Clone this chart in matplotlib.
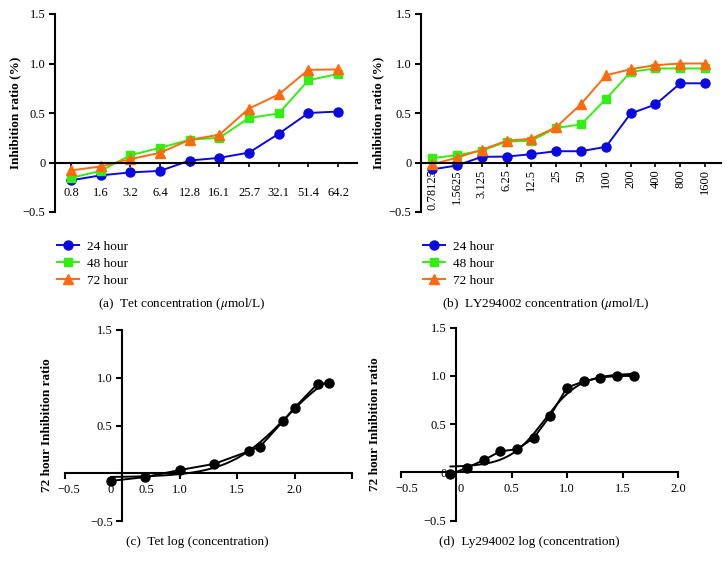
import numpy as np
import matplotlib
matplotlib.use("Agg")
import matplotlib.pyplot as plt

plt.rcParams['font.family'] = ['Liberation Serif', 'DejaVu Serif']
plt.rcParams['mathtext.fontset'] = 'stix'

# ---------------- data ----------------
tet_conc = ['0.8', '1.6', '3.2', '6.4', '12.8', '16.1', '25.7', '32.1', '51.4', '64.2']
tet_24 = [-0.18, -0.13, -0.10, -0.085, 0.02, 0.047, 0.10, 0.29, 0.50, 0.515]
tet_48 = [-0.155, -0.085, 0.074, 0.148, 0.23, 0.25, 0.45, 0.495, 0.83, 0.895]
tet_72 = [-0.08, -0.04, 0.034, 0.098, 0.23, 0.28, 0.545, 0.687, 0.936, 0.94]

ly_conc = ['0.78125', '1.5625', '3.125', '6.25', '12.5', '25', '50', '100', '200', '400', '800', '1600']
ly_24 = [-0.07, -0.03, 0.057, 0.06, 0.084, 0.114, 0.114, 0.158, 0.495, 0.586, 0.80, 0.80]
ly_48 = [0.044, 0.074, 0.12, 0.21, 0.22, 0.35, 0.384, 0.64, 0.915, 0.95, 0.95, 0.95]
ly_72 = [-0.02, 0.05, 0.128, 0.22, 0.24, 0.357, 0.59, 0.88, 0.943, 0.983, 1.0, 1.0]

series_labels = ['24 hour', '48 hour', '72 hour']

tet_log = [-0.10, 0.20, 0.50, 0.80, 1.10, 1.20, 1.40, 1.50, 1.70, 1.80]
ly_log = [-0.05, 0.10, 0.25, 0.40, 0.55, 0.70, 0.85, 1.00, 1.15, 1.30, 1.45, 1.60]

y_ticks = [-0.5, 0, 0.5, 1.0, 1.5]
y_ticklabels = ['\u22120.5', '0', '0.5', '1.0', '1.5']
y_ticklabels_c = ['\u22120.5', '', '0.5', '1.0', '1.5']

# panel (c)/(d) x tick marks and the printed tick labels (as placed in the figure)
c_tick_marks = [-0.5, 0.5, 1.0, 1.5, 2.0]
c_label_pos = [-0.47, -0.10, 0.205, 0.50, 1.0, 1.5]
c_label_txt = ['\u22120.5', '0', '0.5', '1.0', '1.5', '2.0']

d_tick_marks = [-0.5, 0.5, 1.0, 1.5, 2.0]
d_label_pos = [-0.44, 0.04, 0.5, 1.0, 1.5, 2.0]
d_label_txt = ['\u22120.5', '0', '0.5', '1.0', '1.5', '2.0']

# ---------------- style ----------------
W, H = 728, 569
fig = plt.figure(figsize=(W / 100, H / 100), dpi=100)
FS = 9.5     # captions, legend, axis titles
TFS = 9.0    # tick labels
BLUE, GREEN, ORANGE = '#0a0ae0', '#33ee11', '#ff6a10'
colors = [BLUE, GREEN, ORANGE]
markers = ['o', 's', '^']
msizes = [6.5, 5.8, 6.8]


def px_axes(left, right, top, bottom):
    return fig.add_axes([left / W, 1 - bottom / H, (right - left) / W, (bottom - top) / H])


def style_axes(ax, ylabel, lab_x, ylabels=y_ticklabels):
    for s in ['top', 'right']:
        ax.spines[s].set_visible(False)
    ax.spines['left'].set_linewidth(1.5)
    ax.spines['bottom'].set_linewidth(1.5)
    ax.spines['bottom'].set_position(('data', 0))
    ax.set_ylim(-0.5, 1.5)
    ax.set_yticks(y_ticks, ylabels)
    ax.tick_params(axis='y', direction='out', length=4, width=1.5, pad=3, labelsize=TFS)
    ax.set_ylabel(ylabel, fontsize=FS, fontweight='bold')
    ax.yaxis.set_label_coords(lab_x, 0.5)
    ax.patch.set_alpha(0)


def fit4pl(x, y):
    x = np.asarray(x, float)
    y = np.asarray(y, float)
    best = None
    for ec in np.linspace(x.min() - 0.5, x.max() + 1.5, 161):
        for h in np.linspace(0.3, 8.0, 78):
            s = 1.0 / (1.0 + 10 ** ((ec - x) * h))
            A = np.column_stack([1 - s, s])
            coef, *_ = np.linalg.lstsq(A, y, rcond=None)
            r = np.sum((A @ coef - y) ** 2)
            if best is None or r < best[0]:
                best = (r, ec, h, coef)
    _, ec, h, coef = best
    xs = np.linspace(x.min(), x.max(), 200)
    s = 1.0 / (1.0 + 10 ** ((ec - xs) * h))
    return xs, coef[0] * (1 - s) + coef[1] * s


def log_panel_xlabels(ax, marks, pos, txt):
    ax.set_xlim(-0.5, 2.0)
    ax.set_xticks(marks, [''] * len(marks))
    ax.tick_params(axis='x', direction='out', length=4, width=1.5)
    for p, t in zip(pos, txt):
        ax.annotate(t, xy=(p, 0), xycoords='data', xytext=(0, -12.2), textcoords='offset points',
                    ha='center', va='center', fontsize=TFS, annotation_clip=False)


# ---------------- (a) ----------------
axa = px_axes(55, 357, 14, 212)
style_axes(axa, 'Inhibition ratio (%)', -0.113)
xa = np.arange(len(tet_conc))
for vals, c, m, ms, lab in zip([tet_24, tet_48, tet_72], colors, markers, msizes, series_labels):
    axa.plot(xa, vals, color=c, marker=m, markersize=ms, linewidth=1.4, label=lab, clip_on=False)
axa.set_xlim(-0.54, 9.64)
axa.set_xticks(xa, tet_conc)
axa.tick_params(axis='x', direction='out', length=3, width=1.2, pad=15, labelsize=TFS)

# ---------------- (b) ----------------
axb = px_axes(421, 721, 14, 212)
style_axes(axb, 'Inhibition ratio (%)', -0.123)
xb = np.arange(len(ly_conc))
for vals, c, m, ms, lab in zip([ly_24, ly_48, ly_72], colors, markers, msizes, series_labels):
    axb.plot(xb, vals, color=c, marker=m, markersize=ms, linewidth=1.4, label=lab, clip_on=False)
axb.set_xlim(-0.45, 11.64)
axb.set_xticks(xb, ly_conc, rotation=90)
axb.tick_params(axis='x', direction='out', length=3, width=1.2, pad=2, labelsize=TFS)

# legends
for ax, lx in [(axa, 57), (axb, 423)]:
    handles, labels = ax.get_legend_handles_labels()
    fig.legend(handles, labels, loc='upper left', bbox_to_anchor=(lx / W, 1 - 240.5 / H),
               frameon=False, fontsize=FS, handlelength=1.67, handletextpad=0.58,
               labelspacing=0.36, borderpad=0, borderaxespad=0)

# ---------------- (c) ----------------
axc = px_axes(65, 352, 330, 521)
style_axes(axc, '72 hour Inhibition ratio', -0.042, y_ticklabels_c)
axc.spines['left'].set_position(('data', 0))
axc.plot(tet_log, tet_72, color='black', marker='o', markersize=6.5, linewidth=1.4, clip_on=False)
xs, ys = fit4pl(tet_log, tet_72)
axc.plot(xs, ys, color='black', linewidth=1.4)
log_panel_xlabels(axc, c_tick_marks, c_label_pos, c_label_txt)

# ---------------- (d) ----------------
axd = px_axes(400.5, 678, 327.7, 520.7)
style_axes(axd, '72 hour Inhibition ratio', -0.07)
axd.spines['left'].set_position(('data', 0))
axd.plot(ly_log, ly_72, color='black', marker='o', markersize=6.5, linewidth=1.4, clip_on=False)
xs, ys = fit4pl(ly_log, ly_72)
axd.plot(xs, ys, color='black', linewidth=1.4)
log_panel_xlabels(axd, d_tick_marks, d_label_pos, d_label_txt)

# captions
fig.text(182 / W, 1 - 304 / H, '(a)  Tet concentration ($\\mu$mol/L)', ha='center', va='center', fontsize=FS)
fig.text(546 / W, 1 - 304 / H, '(b)  LY294002 concentration ($\\mu$mol/L)', ha='center', va='center', fontsize=FS)
fig.text(197 / W, 1 - 542 / H, '(c)  Tet log (concentration)', ha='center', va='center', fontsize=FS)
fig.text(529 / W, 1 - 542 / H, '(d)  Ly294002 log (concentration)', ha='center', va='center', fontsize=FS)

fig.savefig('out.png', dpi=100)
